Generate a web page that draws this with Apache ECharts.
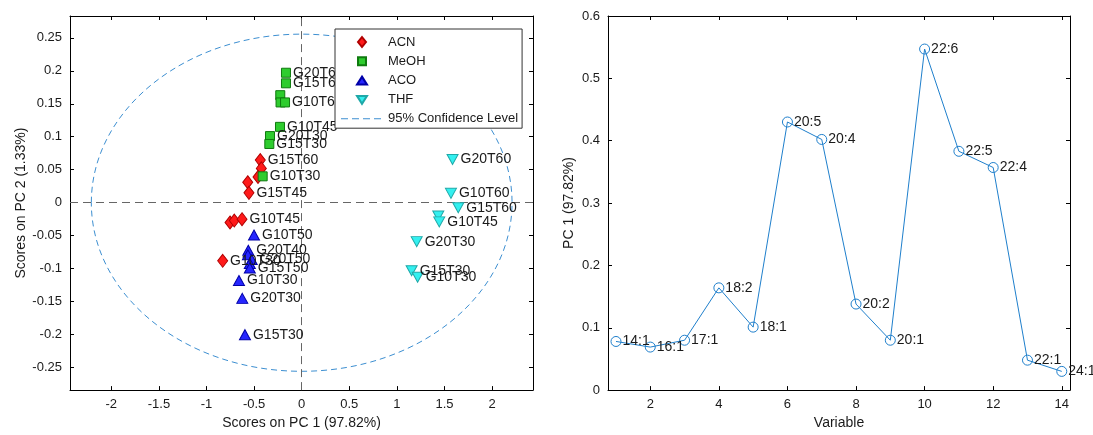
<!DOCTYPE html>
<html>
<head>
<meta charset="utf-8">
<script src="https://cdn.jsdelivr.net/npm/echarts@6/dist/echarts.min.js"></script>
<style>
  html, body { margin: 0; padding: 0; background: #fff; }
  #chart { width: 1093px; height: 435px; }
</style>
</head>
<body>
<div id="chart"></div>
<script>
// ---- Scores plot (PC 1 vs PC 2) ----
const acnPoints = [[-0.435, 0.0646], [-0.424, 0.052], [-0.459, 0.039], [-0.567, 0.031], [-0.554, 0.015],
                   [-0.753, -0.030], [-0.708, -0.027], [-0.627, -0.025], [-0.83, -0.088]];
const acnLabels = ['G15T60', '', '', '', 'G15T45', '', '', 'G10T45', 'G10T30'];

const meohPoints = [[-0.165, 0.197], [-0.165, 0.181], [-0.225, 0.163], [-0.222, 0.152], [-0.175, 0.152],
                    [-0.228, 0.115], [-0.333, 0.101], [-0.34, 0.089], [-0.41, 0.040]];
const meohLabels = ['G20T60', 'G15T60', '', '', 'G10T60', 'G10T45', 'G20T30', 'G15T30', 'G10T30'];

const acoPoints = [[-0.501, -0.049], [-0.561, -0.072], [-0.565, -0.079], [-0.525, -0.086], [-0.545, -0.092],
                   [-0.545, -0.099], [-0.659, -0.118], [-0.624, -0.145], [-0.596, -0.200]];
const acoLabels = ['G10T50', 'G20T40', '', 'G20T50', '', 'G15T50', 'G10T30', 'G20T30', 'G15T30'];

const thfPoints = [[1.585, 0.0656], [1.568, 0.0142], [1.645, -0.0076], [1.435, -0.020], [1.445, -0.029],
                   [1.208, -0.059], [1.155, -0.103], [1.218, -0.113]];
const thfLabels = ['G20T60', 'G10T60', 'G15T60', '', 'G10T45', 'G20T30', 'G15T30', 'G10T30'];

// 95% confidence ellipse: centre and semi-axes in score units
const ellipse = [[0, 0, 2.21, 0.2555]];

const scoreXTicks = [-2, -1.5, -1, -0.5, 0, 0.5, 1, 1.5, 2];
const scoreYTicks = [-0.25, -0.2, -0.15, -0.1, -0.05, 0, 0.05, 0.1, 0.15, 0.2, 0.25];

// ---- Loadings plot (PC 1 per variable) ----
const variables = [1, 2, 3, 4, 5, 6, 7, 8, 9, 10, 11, 12, 13, 14];
const variableNames = ['14:1', '16:1', '17:1', '18:2', '18:1', '20:5', '20:4', '20:2', '20:1', '22:6', '22:5', '22:4', '22:1', '24:1'];
const pc1Loadings = [0.078, 0.069, 0.080, 0.164, 0.101, 0.430, 0.402, 0.138, 0.080, 0.547, 0.383, 0.357, 0.048, 0.030];
const loadingXTicks = [2, 4, 6, 8, 10, 12, 14];

const FONT = '"Liberation Sans", Arial, Helvetica, sans-serif';
const INK = '#1a1a1a';

// Legend glyphs drawn in a 42x12 box (the trailing moves pin the box size)
const BOX = ' M0,0 M42,12';
const legendIcons = {
  ACN: 'path://M21,1L25,6L21,11L17,6Z' + BOX,
  MeOH: 'path://M17,2H25V10H17Z' + BOX,
  ACO: 'path://M21,2L26,10H16Z' + BOX,
  THF: 'path://M16,2H26L21,10Z' + BOX,
  CONF: 'path://M0,5.5h7v1h-7z M11,5.5h7v1h-7z M22,5.5h7v1h-7z M33,5.5h7v1h-7z' + BOX
};

function toItems(points, labels) {
  return points.map((p, i) => ({ name: labels[i], value: p }));
}

function axisBase(extra) {
  return Object.assign({
    type: 'value',
    axisLine: { show: true, onZero: false, lineStyle: { color: '#000', width: 1 } },
    axisTick: { show: true, inside: true, length: 4, lineStyle: { color: '#000', width: 1 } },
    axisLabel: { show: true, fontSize: 13, color: INK, fontFamily: FONT, margin: 8 },
    splitLine: { show: false },
    nameTextStyle: { fontSize: 14, color: INK, fontFamily: FONT },
    nameLocation: 'middle'
  }, extra);
}

function mirror(axis, position) {
  const m = JSON.parse(JSON.stringify(axis));
  m.position = position;
  m.axisLabel.show = false;
  delete m.name;
  return m;
}

const scoreX = axisBase({
  gridIndex: 0, position: 'bottom', min: -2.434, max: 2.43,
  name: 'Scores on PC 1 (97.82%)', nameGap: 25
});
scoreX.axisTick.customValues = scoreXTicks;
scoreX.axisLabel.customValues = scoreXTicks;

const scoreY = axisBase({
  gridIndex: 0, position: 'left', min: -0.284, max: 0.283,
  name: 'Scores on PC 2 (1.33%)', nameGap: 42
});
scoreY.axisTick.customValues = scoreYTicks;
scoreY.axisLabel.customValues = scoreYTicks;

const loadX = axisBase({
  gridIndex: 1, position: 'bottom', min: 0.767, max: 14.24,
  name: 'Variable', nameGap: 25
});
loadX.axisTick.customValues = loadingXTicks;
loadX.axisLabel.customValues = loadingXTicks;

const loadY = axisBase({
  gridIndex: 1, position: 'left', min: 0, max: 0.6, interval: 0.1,
  name: 'PC 1 (97.82%)', nameGap: 32
});

function scatterSeries(name, points, labels, symbol, size, fill, edge, rotate) {
  return {
    name: name,
    type: 'scatter',
    xAxisIndex: 0, yAxisIndex: 0,
    symbol: symbol,
    symbolSize: size,
    symbolRotate: rotate || 0,
    itemStyle: { color: fill, borderColor: edge, borderWidth: 1, opacity: 1 },
    label: {
      show: true, position: 'right', distance: 2,
      formatter: p => p.name,
      fontSize: 14, color: INK, fontFamily: FONT
    },
    labelLayout: { hideOverlap: false },
    emphasis: { disabled: true },
    data: toItems(points, labels),
    z: 5
  };
}

const chart = echarts.init(document.getElementById('chart'), null, { renderer: 'canvas' });

chart.setOption({
  animation: false,
  backgroundColor: '#fff',
  textStyle: { fontFamily: FONT },
  grid: [
    { left: 70, top: 16, right: 560, bottom: 44, containLabel: false },
    { left: 608, top: 16, right: 23, bottom: 44, containLabel: false }
  ],
  xAxis: [scoreX, mirror(scoreX, 'top'), loadX, mirror(loadX, 'top')],
  yAxis: [scoreY, mirror(scoreY, 'right'), loadY, mirror(loadY, 'right')],
  legend: {
    orient: 'vertical', left: 335, top: 29,
    data: [
      { name: 'ACN', icon: legendIcons.ACN },
      { name: 'MeOH', icon: legendIcons.MeOH },
      { name: 'ACO', icon: legendIcons.ACO },
      { name: 'THF', icon: legendIcons.THF },
      { name: '95% Confidence Level', icon: legendIcons.CONF, itemStyle: { borderWidth: 0 } }
    ],
    backgroundColor: '#fff', borderColor: '#333', borderWidth: 1, borderRadius: 0,
    padding: [6, 4, 3, 5], itemGap: 5.3, itemWidth: 42, itemHeight: 12,
    textStyle: { fontSize: 13, color: INK, fontFamily: FONT, lineHeight: 12 },
    selectedMode: false, z: 10
  },
  series: [
    // dashed crosshair through the origin
    {
      name: 'origin',
      type: 'line', xAxisIndex: 0, yAxisIndex: 0,
      symbol: 'none', data: [],
      markLine: {
        silent: true, symbol: 'none', label: { show: false },
        lineStyle: { color: '#666', width: 1, type: [8, 5] },
        data: [{ xAxis: 0 }, { yAxis: 0 }]
      }
    },
    {
      name: '95% Confidence Level',
      type: 'custom', xAxisIndex: 0, yAxisIndex: 0,
      silent: true,
      itemStyle: { color: '#3d8fd1' },
      renderItem: function (params, api) {
        const c = api.coord([api.value(0), api.value(1)]);
        const s = api.size([api.value(2), api.value(3)]);
        return {
          type: 'ellipse',
          shape: { cx: c[0], cy: c[1], rx: s[0], ry: s[1] },
          style: { fill: null, stroke: '#3d8fd1', lineWidth: 1, lineDash: [6, 4] }
        };
      },
      data: ellipse,
      z: 1
    },
    scatterSeries('ACN', acnPoints, acnLabels, 'diamond', [10, 13], '#ff1a1a', '#b00000'),
    scatterSeries('MeOH', meohPoints, meohLabels, 'rect', 9, '#2ecc2e', '#0f7a0f'),
    scatterSeries('ACO', acoPoints, acoLabels, 'triangle', [11, 10], '#2626ff', '#0000a8'),
    scatterSeries('THF', thfPoints, thfLabels, 'triangle', [11, 10], '#33f0f0', '#1fa8a8', 180),
    // loadings line with open circle markers
    {
      name: 'PC 1',
      type: 'line', xAxisIndex: 2, yAxisIndex: 2,
      symbol: 'circle', symbolSize: 10, showAllSymbol: true,
      lineStyle: { color: '#1f7fcc', width: 1 },
      itemStyle: { color: 'rgba(0,0,0,0)', borderColor: '#1f7fcc', borderWidth: 1 },
      label: {
        show: true, position: 'right', distance: 1,
        formatter: p => variableNames[p.dataIndex],
        fontSize: 14, color: INK, fontFamily: FONT
      },
      emphasis: { disabled: true },
      data: variables.map((v, i) => [v, pc1Loadings[i]])
    }
  ]
});
</script>
</body>
</html>
